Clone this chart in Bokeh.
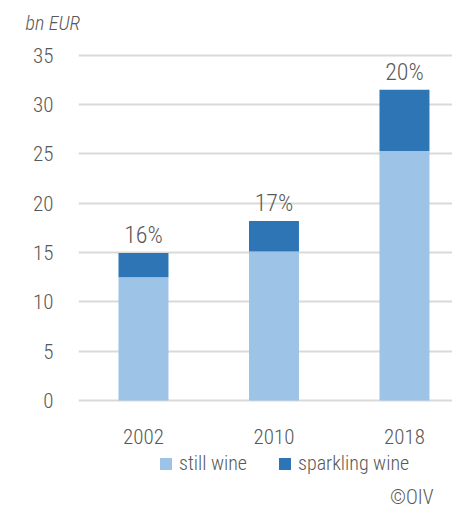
from bokeh.plotting import figure
from bokeh.models import Range1d, ColumnDataSource, Legend, LegendItem, Title, FixedTicker
from bokeh.core.properties import value
from bokeh.embed import file_html
from bokeh.resources import INLINE

years = ["2002", "2010", "2018"]
still = [12.5, 15.1, 25.3]
sparkling = [2.45, 3.1, 6.2]
shares = ["16%", "17%", "20%"]
y_ticks = [0, 5, 10, 15, 20, 25, 30, 35]

FONT = "'Roboto Condensed Light', 'Roboto Condensed', 'Liberation Sans Narrow', 'DejaVu Sans Condensed', sans-serif"
TXT = "#595959"
LIGHT = "#9DC3E6"
DARK = "#2E75B6"

xs = list(range(len(years)))
totals = [a + b for a, b in zip(still, sparkling)]
src = ColumnDataSource(dict(x=xs, still=still, total=totals, zero=[0] * len(xs),
                            lab=shares, year=years))

p = figure(width=452, height=509, output_backend="svg", toolbar_location=None,
           x_range=Range1d(-0.498, 2.368), y_range=Range1d(-11.05, 36.5),
           min_border_left=78, min_border_right=0, min_border_top=40, min_border_bottom=0,
           frame_height=469, frame_width=374)
p.outline_line_color = None
p.background_fill_color = "white"
p.border_fill_color = "white"

r1 = p.vbar(x="x", bottom="zero", top="still", width=0.383, source=src, fill_color=LIGHT, line_color=None)
r2 = p.vbar(x="x", bottom="still", top="total", width=0.383, source=src, fill_color=DARK, line_color=None)

# share of sparkling wine above each bar
p.text(x="x", y="total", text="lab", source=src, text_align="center", text_baseline="bottom",
       y_offset=-4, text_font=value(FONT), text_font_size="24px", text_color=TXT)

# category labels under the baseline
p.text(x="x", y="zero", text="year", source=src, text_align="center", text_baseline="middle",
       y_offset=36, text_font=value(FONT), text_font_size="21px", text_color=TXT)

p.xaxis.visible = False
p.xgrid.visible = False
p.ygrid.grid_line_color = "#D9D9D9"
p.ygrid.grid_line_width = 2
p.yaxis.ticker = FixedTicker(ticks=y_ticks)

ax = p.yaxis[0]
ax.axis_line_color = None
ax.major_tick_line_color = None
ax.minor_tick_line_color = None
ax.major_tick_out = 0
ax.major_tick_in = 0
ax.major_label_text_font = FONT
ax.major_label_text_font_size = "21px"
ax.major_label_text_color = TXT
ax.major_label_standoff = 25

legend = Legend(items=[LegendItem(label="still wine", renderers=[r1]),
                       LegendItem(label="sparkling wine", renderers=[r2])],
                orientation="horizontal", location=(80, 34),
                label_text_font=FONT, label_text_font_size="20px", label_text_color=TXT,
                glyph_width=15, glyph_height=15, label_standoff=6, spacing=30,
                border_line_color=None, background_fill_alpha=0, padding=0, margin=0)
p.add_layout(legend, "center")

# copyright note
p.text(x=[2.222], y=[-9.83], text=["©OIV"], text_align="right", text_baseline="middle",
       text_font=value(FONT), text_font_size="20px", text_color=TXT)

p.add_layout(Title(text="bn EUR", align="left", offset=-53, standoff=12,
                   text_font=FONT, text_font_size="20px", text_font_style="italic",
                   text_color=TXT), "above")

open("out.html", "w").write(file_html(p, INLINE))
